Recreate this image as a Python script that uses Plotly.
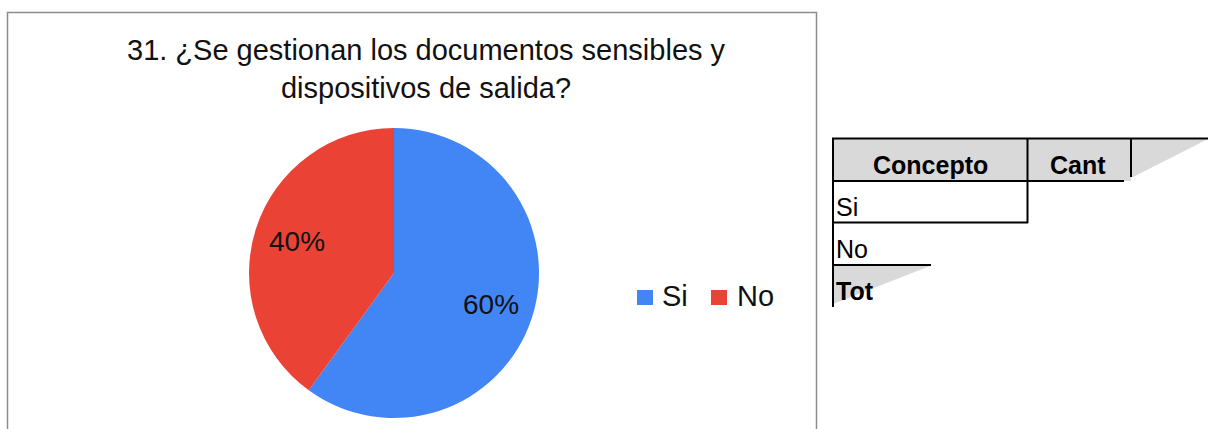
import math
import plotly.graph_objects as go

W, H = 1208, 429

# ---- data ----
categories = ["Si", "No"]
values = [60, 40]
colors = ["#4285F4", "#EA4335"]
title_text = "31. ¿Se gestionan los documentos sensibles y<br>dispositivos de salida?"
table_headers = ["Concepto", "Cant"]
table_rows = ["Si", "No", "Tot"]

def px(x):
    return x / W

def py(y):
    return 1 - y / H

FONT = "Liberation Sans, Arial, sans-serif"

# pie geometry (pixels)
cx, cy, r = 394, 273, 145

fig = go.Figure()
fig.add_trace(go.Pie(
    labels=categories,
    values=values,
    marker=dict(colors=colors, line=dict(width=0)),
    sort=False,
    direction="clockwise",
    rotation=0,
    textinfo="none",
    domain=dict(x=[px(cx - r), px(cx + r)], y=[py(cy + r), py(cy - r)]),
    showlegend=False,
    hoverinfo="label+percent",
))

shapes = []
annotations = []

# percentage labels placed along each slice bisector (derived from the values)
total = sum(values)
start = 0.0
for v in values:
    frac = v / total
    mid = (start + frac / 2) * 2 * math.pi
    start += frac
    lx = cx + 0.70 * r * math.sin(mid)
    ly = cy - 0.70 * r * math.cos(mid)
    annotations.append(dict(text=f"{round(frac * 100)}%", xref="paper", yref="paper",
                            x=px(lx), y=py(ly), xanchor="center", yanchor="middle",
                            showarrow=False,
                            font=dict(family=FONT, size=28, color="#111111")))

# chart border
shapes.append(dict(type="rect", xref="paper", yref="paper",
                   x0=px(7.5), x1=px(816.5), y0=py(440), y1=py(12.5),
                   line=dict(color="#8c8c8c", width=1.5), fillcolor="rgba(0,0,0,0)", layer="below"))

# title
annotations.append(dict(text=title_text, xref="paper", yref="paper",
                        x=px(426), y=py(69), xanchor="center", yanchor="middle",
                        showarrow=False, align="center",
                        font=dict(family=FONT, size=29, color="#111111")))

# custom legend
sq_x = [637, 711]
txt_x = [660, 735]
for i, cat in enumerate(categories):
    shapes.append(dict(type="rect", xref="paper", yref="paper",
                       x0=px(sq_x[i]), x1=px(sq_x[i] + 16), y0=py(305), y1=py(290),
                       line=dict(width=0), fillcolor=colors[i]))
    annotations.append(dict(text=cat, xref="paper", yref="paper",
                            x=px(txt_x[i]), y=py(296), xanchor="left", yanchor="middle",
                            showarrow=False,
                            font=dict(family=FONT, size=29, color="#111111")))

# ---- spreadsheet fragment on the right ----
gray = "#D9D9D9"
shapes.append(dict(type="rect", xref="paper", yref="paper",
                   x0=px(833), x1=px(1131), y0=py(181), y1=py(139),
                   line=dict(width=0), fillcolor=gray, layer="below"))
shapes.append(dict(type="path", xref="paper", yref="paper",
                   path=f"M {px(1131)} {py(139)} L {px(1208)} {py(139)} L {px(1131)} {py(178)} Z",
                   line=dict(width=0), fillcolor=gray, layer="below"))
shapes.append(dict(type="path", xref="paper", yref="paper",
                   path=f"M {px(833)} {py(266)} L {px(930)} {py(266)} L {px(833)} {py(304)} Z",
                   line=dict(width=0), fillcolor=gray, layer="below"))

def hline(y, x0, x1):
    shapes.append(dict(type="line", xref="paper", yref="paper",
                       x0=px(x0), x1=px(x1), y0=py(y), y1=py(y),
                       line=dict(color="#000000", width=2)))

def vline(x, y0, y1):
    shapes.append(dict(type="line", xref="paper", yref="paper",
                       x0=px(x), x1=px(x), y0=py(y0), y1=py(y1),
                       line=dict(color="#000000", width=2)))

hline(138.5, 832, 1208)
hline(181, 832, 1124)
hline(222.5, 832, 1028)
hline(265, 832, 931)
vline(833, 138, 307)
vline(1027.5, 138, 223)
vline(1131, 138, 177)

annotations.append(dict(text=f"<b>{table_headers[0]}</b>", xref="paper", yref="paper",
                        x=px(930), y=py(165), xanchor="center", yanchor="middle", showarrow=False,
                        font=dict(family=FONT, size=25, color="#000000")))
annotations.append(dict(text=f"<b>{table_headers[1]}</b>", xref="paper", yref="paper",
                        x=px(1078), y=py(165), xanchor="center", yanchor="middle", showarrow=False,
                        font=dict(family=FONT, size=25, color="#000000")))
row_y = [207, 249, 291]
for i, lab in enumerate(table_rows):
    txt = f"<b>{lab}</b>" if lab == "Tot" else lab
    annotations.append(dict(text=txt, xref="paper", yref="paper",
                            x=px(834), y=py(row_y[i]), xanchor="left", yanchor="middle", showarrow=False,
                            font=dict(family=FONT, size=25, color="#000000")))

fig.update_layout(
    width=W, height=H,
    margin=dict(l=0, r=0, t=0, b=0),
    paper_bgcolor="#FFFFFF",
    plot_bgcolor="#FFFFFF",
    shapes=shapes,
    annotations=annotations,
    showlegend=False,
)

fig.write_html("out.html")
